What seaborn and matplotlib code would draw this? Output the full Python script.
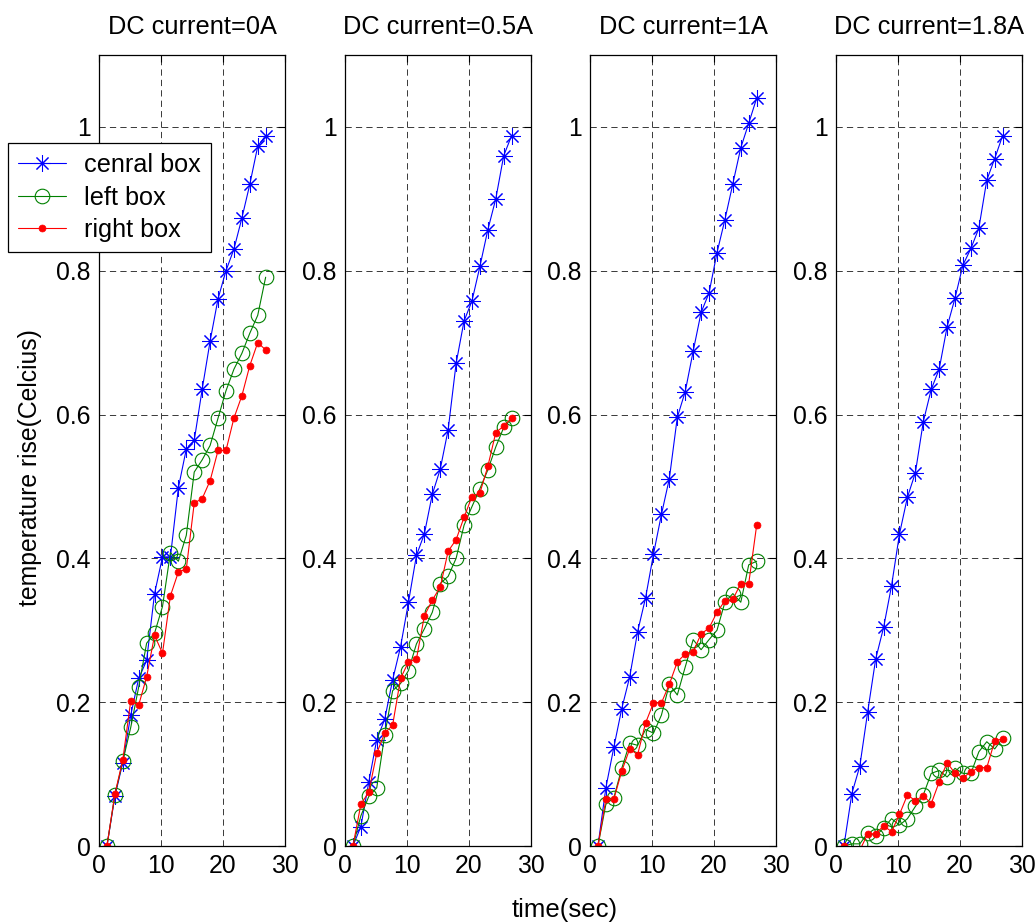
import matplotlib
matplotlib.use("Agg")
import matplotlib.pyplot as plt
import seaborn as sns

# ---------------- data ----------------
time_sec = [1.28, 2.56, 3.84, 5.12, 6.40, 7.68, 8.96, 10.24, 11.52, 12.80, 14.08,
            15.36, 16.64, 17.92, 19.20, 20.48, 21.76, 23.04, 24.32, 25.60, 26.88]

titles = ["DC current=0A", "DC current=0.5A", "DC current=1A", "DC current=1.8A"]
series_labels = ["cenral box", "left box", "right box"]

central_0A = [0, 0.069, 0.116, 0.182, 0.233, 0.258, 0.351, 0.402, 0.402, 0.498, 0.552,
              0.564, 0.635, 0.702, 0.761, 0.800, 0.830, 0.873, 0.920, 0.973, 0.988]
left_0A = [0, 0.071, 0.118, 0.165, 0.221, 0.282, 0.296, 0.333, 0.408, 0.396, 0.432,
           0.520, 0.537, 0.557, 0.595, 0.633, 0.663, 0.685, 0.713, 0.738, 0.791]
right_0A = [0, 0.072, 0.120, 0.202, 0.196, 0.235, 0.293, 0.268, 0.348, 0.381, 0.385,
            0.477, 0.483, 0.508, 0.550, 0.550, 0.595, 0.626, 0.668, 0.700, 0.690]

central_05A = [0, 0.027, 0.089, 0.148, 0.176, 0.231, 0.277, 0.339, 0.404, 0.434, 0.489,
               0.524, 0.579, 0.671, 0.730, 0.758, 0.806, 0.857, 0.900, 0.960, 0.988]
left_05A = [0, 0.042, 0.069, 0.081, 0.154, 0.216, 0.226, 0.244, 0.281, 0.302, 0.325,
            0.365, 0.375, 0.400, 0.446, 0.472, 0.497, 0.523, 0.555, 0.582, 0.595]
right_05A = [0, 0.058, 0.075, 0.129, 0.157, 0.168, 0.233, 0.256, 0.260, 0.320, 0.342,
             0.360, 0.410, 0.426, 0.457, 0.486, 0.491, 0.528, 0.575, 0.584, 0.595]

central_1A = [0, 0.081, 0.137, 0.191, 0.235, 0.298, 0.345, 0.406, 0.461, 0.511, 0.596,
              0.632, 0.688, 0.742, 0.769, 0.825, 0.871, 0.921, 0.971, 1.005, 1.040]
left_1A = [0, 0.058, 0.067, 0.108, 0.143, 0.140, 0.162, 0.157, 0.182, 0.225, 0.210,
           0.249, 0.287, 0.273, 0.287, 0.300, 0.339, 0.351, 0.339, 0.391, 0.396]
right_1A = [0, 0.065, 0.065, 0.104, 0.135, 0.127, 0.171, 0.199, 0.199, 0.225, 0.256,
            0.267, 0.270, 0.295, 0.303, 0.325, 0.341, 0.343, 0.365, 0.365, 0.446]

central_18A = [0, 0.073, 0.111, 0.187, 0.260, 0.304, 0.362, 0.434, 0.485, 0.519, 0.590,
               0.635, 0.663, 0.722, 0.762, 0.808, 0.831, 0.859, 0.926, 0.956, 0.988]
left_18A = [0, 0.003, 0.003, 0.018, 0.014, 0.025, 0.038, 0.029, 0.038, 0.055, 0.071,
            0.101, 0.105, 0.096, 0.108, 0.101, 0.101, 0.131, 0.145, 0.135, 0.150]
right_18A = [0, -0.008, -0.006, 0.017, 0.017, 0.028, 0.020, 0.044, 0.071, 0.063, 0.070,
             0.059, 0.089, 0.116, 0.101, 0.095, 0.103, 0.109, 0.109, 0.146, 0.149]

panels = [
    (central_0A, left_0A, right_0A),
    (central_05A, left_05A, right_05A),
    (central_1A, left_1A, right_1A),
    (central_18A, left_18A, right_18A),
]

x_ticks = [0, 10, 20, 30]
x_tick_labels = ["0", "10", "20", "30"]
y_ticks = [0, 0.2, 0.4, 0.6, 0.8, 1.0]
y_tick_labels = ["0", "0.2", "0.4", "0.6", "0.8", "1"]

# ---------------- style ----------------
sns.set_style("white")
plt.rcParams["font.family"] = ["Liberation Sans", "DejaVu Sans"]
plt.rcParams["lines.scale_dashes"] = False
plt.rcParams["text.color"] = "black"
plt.rcParams["axes.labelcolor"] = "black"
plt.rcParams["xtick.color"] = "black"
plt.rcParams["ytick.color"] = "black"
FS_TITLE = 18.3
FS_TICK = 17.8
FS_LEG = 18.2
FS_LAB = 17.8

W, H = 1035, 924
fig = plt.figure(figsize=(W / 100, H / 100), dpi=100)

lefts_px = [99, 345, 590, 836]
ax_w_px = 186
top_px, bottom_px = 55, 846

styles = [
    dict(color=(0, 0, 1), marker=(8, 2, 0), markersize=12, markeredgewidth=0.75,
         markeredgecolor=(0, 0, 1), markerfacecolor=(0, 0, 1)),
    dict(color=(0, 0.5, 0), marker="o", markersize=10.5, markeredgewidth=0.8,
         markeredgecolor=(0, 0.5, 0), markerfacecolor="none"),
    dict(color=(1, 0, 0), marker="o", markersize=5, markeredgewidth=0.5,
         markeredgecolor=(1, 0, 0), markerfacecolor=(1, 0, 0)),
]

axes = []
for i, (vals, title) in enumerate(zip(panels, titles)):
    ax = fig.add_axes([lefts_px[i] / W, (H - bottom_px) / H,
                       ax_w_px / W, (bottom_px - top_px) / H])
    axes.append(ax)
    for v, st, lab in zip(vals, styles, series_labels):
        sns.lineplot(x=time_sec, y=v, ax=ax, linewidth=0.8, estimator=None,
                     sort=False, label=lab, legend=False, **st)
    ax.set_xlim(0, 30)
    ax.set_ylim(0, 1.1)
    ax.set_xticks(x_ticks)
    ax.set_xticklabels(x_tick_labels)
    ax.set_yticks(y_ticks)
    ax.set_yticklabels(y_tick_labels)
    ax.tick_params(direction="in", length=5, width=0.8, labelsize=FS_TICK, pad=6,
                   top=True, right=True, colors="black")
    ax.set_axisbelow(True)
    ax.grid(True, color="black", linestyle=(0, (4.5, 3.0)), linewidth=0.6, alpha=0.9)
    for s in ax.spines.values():
        s.set_visible(True)
        s.set_color("black")
        s.set_linewidth(0.9)
    ax.set_title(title, fontsize=FS_TITLE, pad=15, color="black")
    ax.set_xlabel("")
    ax.set_ylabel("")

handles = axes[0].get_lines()[:3]
leg = fig.legend(handles, series_labels, loc="upper left",
                 bbox_to_anchor=(8 / W, 1 - 143 / H), borderaxespad=0,
                 fontsize=FS_LEG, frameon=True, fancybox=False, edgecolor="black",
                 framealpha=1, handlelength=1.9, handletextpad=0.7,
                 labelspacing=0.34, borderpad=0.4)
leg.get_frame().set_linewidth(0.9)

fig.text(30 / W, 1 - 468 / H, "temperature rise(Celcius)", rotation=90,
         ha="center", va="center", fontsize=FS_LAB)
fig.text(565 / W, 1 - 910 / H, "time(sec)", ha="center", va="center", fontsize=18.5)

fig.savefig("out.png", dpi=100, facecolor="white")
